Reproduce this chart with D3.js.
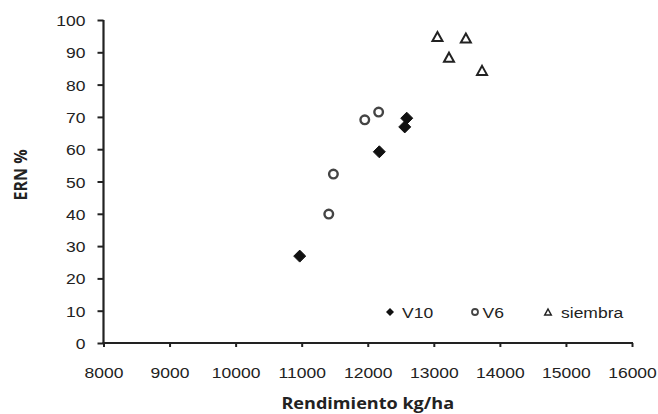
<!DOCTYPE html>
<html>
<head>
<meta charset="utf-8">
<script src="https://cdn.jsdelivr.net/npm/d3@7"></script>
<style>
  body { margin: 0; background: #fff; }
  text { fill: #222; }
</style>
</head>
<body>
<div id="chart"></div>
<script>
// values
var v10X = [10970, 12175, 12590, 12560];
var v10Y = [26.9, 59.2, 69.6, 66.9];
var v6X = [11410, 11480, 11955, 12165];
var v6Y = [39.9, 52.3, 69.1, 71.5];
var siembraX = [13055, 13485, 13230, 13730];
var siembraY = [94.9, 94.4, 88.5, 84.4];
var xTicks = [8000, 9000, 10000, 11000, 12000, 13000, 14000, 15000, 16000];
var yTicks = [0, 10, 20, 30, 40, 50, 60, 70, 80, 90, 100];
var seriesNames = ["V10", "V6", "siembra"];

var width = 658, height = 414;
var sx = 1.13; // the original text looks stretched sideways

var svg = d3.select("#chart").append("svg")
    .attr("width", width)
    .attr("height", height);

var x = d3.scaleLinear().domain([8000, 16000]).range([103.5, 632]);
var y = d3.scaleLinear().domain([0, 100]).range([343, 20]);

var tickFont = "'Liberation Sans', Arial, sans-serif";
var titleFont = "'Open Sans', 'Liberation Sans', sans-serif";

// axes
var xAxis = svg.append("g")
    .attr("transform", "translate(0," + y(0) + ")")
    .call(d3.axisBottom(x).tickValues(xTicks).tickSize(4).tickSizeOuter(0).tickFormat(d3.format("d")));
var yAxis = svg.append("g")
    .attr("transform", "translate(" + x(8000) + ",0)")
    .call(d3.axisLeft(y).tickValues(yTicks).tickSize(6).tickSizeOuter(0));

[xAxis, yAxis].forEach(function(a) {
    a.select(".domain").attr("stroke", "#222").attr("stroke-width", 2.2);
    a.selectAll(".tick line").attr("stroke", "#222").attr("stroke-width", 2);
    a.selectAll(".tick text")
        .style("font-family", tickFont)
        .style("font-size", "15.5px")
        .attr("fill", "#333");
});
xAxis.select(".domain").attr("d", "M" + (x(8000) - 1) + ",0H" + (x(16000) + 1));
yAxis.select(".domain").attr("d", "M0," + y(100) + "V" + (y(0) + 1));

xAxis.selectAll(".tick text")
    .attr("y", 35).attr("dy", 0)
    .attr("transform", "scale(" + sx + ",1)");
yAxis.selectAll(".tick text")
    .attr("x", -18 / sx).attr("dy", "0.36em")
    .attr("transform", "scale(" + sx + ",1)");

// axis titles
svg.append("text")
    .attr("transform", "translate(" + ((x(8000) + x(16000)) / 2) + ",409) scale(" + sx + ",1)")
    .attr("text-anchor", "middle")
    .style("font-family", titleFont)
    .style("font-weight", "bold")
    .style("font-size", "16px")
    .text("Rendimiento kg/ha");

svg.append("text")
    .attr("transform", "translate(27,175) rotate(-90) scale(1," + sx + ")")
    .attr("text-anchor", "middle")
    .style("font-family", titleFont)
    .style("font-weight", "bold")
    .style("font-size", "16px")
    .text("ERN %");

// marker shapes
function diamond(w, h) {
    return "M0," + (-h) + "L" + w + ",0L0," + h + "L" + (-w) + ",0Z";
}
function triangle(w, h) {
    return "M0," + (-h / 2) + "L" + (w / 2) + "," + (h / 2) + "L" + (-w / 2) + "," + (h / 2) + "Z";
}

var pts = svg.append("g");

pts.selectAll(".v10")
    .data(d3.zip(v10X, v10Y))
    .enter().append("path")
    .attr("class", "v10")
    .attr("d", diamond(6, 6))
    .attr("transform", function(d) { return "translate(" + x(d[0]) + "," + y(d[1]) + ")"; })
    .attr("fill", "#111")
    .attr("stroke", "#111")
    .attr("stroke-linejoin", "round")
    .attr("stroke-width", 1);

pts.selectAll(".v6")
    .data(d3.zip(v6X, v6Y))
    .enter().append("circle")
    .attr("class", "v6")
    .attr("cx", function(d) { return x(d[0]); })
    .attr("cy", function(d) { return y(d[1]); })
    .attr("r", 4.3)
    .attr("fill", "#fff")
    .attr("stroke", "#444")
    .attr("stroke-width", 2.4);

pts.selectAll(".siembra")
    .data(d3.zip(siembraX, siembraY))
    .enter().append("path")
    .attr("class", "siembra")
    .attr("d", triangle(10, 9))
    .attr("transform", function(d) { return "translate(" + x(d[0]) + "," + y(d[1]) + ")"; })
    .attr("fill", "#fff")
    .attr("stroke", "#222")
    .attr("stroke-width", 2);

// legend
var legendX = [390, 475, 548];
var legend = svg.append("g");
var items = legend.selectAll("g")
    .data(seriesNames)
    .enter().append("g")
    .attr("transform", function(d, i) { return "translate(" + legendX[i] + ",312)"; });

items.each(function(d, i) {
    var g = d3.select(this);
    if (i === 0) {
        g.append("path").attr("d", diamond(4, 4)).attr("fill", "#111");
    } else if (i === 1) {
        g.append("circle").attr("r", 3).attr("fill", "#fff").attr("stroke", "#444").attr("stroke-width", 1.8);
    } else {
        g.append("path").attr("d", triangle(6.5, 6)).attr("fill", "#fff").attr("stroke", "#222").attr("stroke-width", 1.5);
    }
    g.append("text")
        .attr("transform", "translate(" + (i === 2 ? 13 : (i === 0 ? 12 : 7.5)) + ",5.5) scale(" + sx + ",1)")
        .style("font-family", tickFont)
        .style("font-size", "15.5px")
        .attr("fill", "#333")
        .text(d);
});
</script>
</body>
</html>
